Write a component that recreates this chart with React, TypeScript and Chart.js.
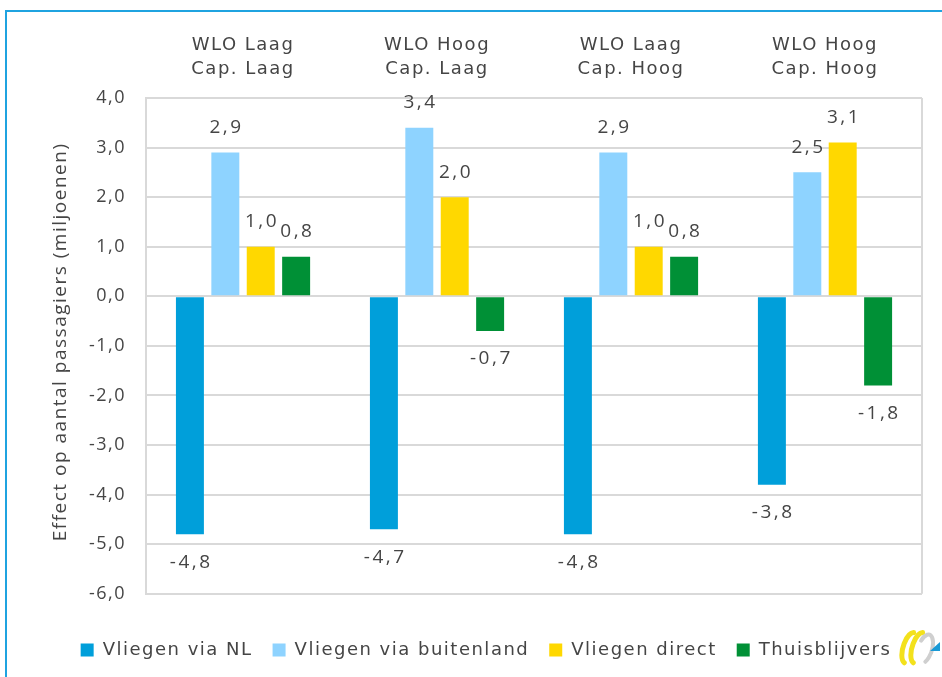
import React, { useEffect, useRef } from 'react';
import { Chart, registerables } from 'chart.js';

Chart.register(...registerables);

const categories: string[][] = [
  ['WLO Laag', 'Cap. Laag'],
  ['WLO Hoog', 'Cap. Laag'],
  ['WLO Laag', 'Cap. Hoog'],
  ['WLO Hoog', 'Cap. Hoog'],
];
const seriesNames = ['Vliegen via NL', 'Vliegen via buitenland', 'Vliegen direct', 'Thuisblijvers'];
const vliegenViaNL = [-4.8, -4.7, -4.8, -3.8];
const vliegenViaBuitenland = [2.9, 3.4, 2.9, 2.5];
const vliegenDirect = [1.0, 2.0, 1.0, 3.1];
const thuisblijvers = [0.8, -0.7, 0.8, -1.8];
const seriesColors = ['#009fda', '#8ed3ff', '#ffd800', '#009036'];
const yMin = -6;
const yMax = 4;
const yStep = 1;
const yTitle = 'Effect op aantal passagiers (miljoenen)';

const TEXT = '#454545';
const GRID = '#d9d9d9';
const LABEL_FONT = "'DejaVu Sans', Verdana, sans-serif";
const NUM_FONT = "'Open Sans', 'DejaVu Sans', sans-serif";
const SPACING = '1.5px';

const fmt = (v: number) => v.toFixed(1).replace('.', ',');

const extrasPlugin = {
  id: 'extras',
  beforeUpdate(chart: any) {
    chart.ctx.letterSpacing = SPACING;
  },
  beforeLayout(chart: any) {
    chart.ctx.letterSpacing = SPACING;
  },
  beforeDraw(chart: any) {
    chart.ctx.letterSpacing = SPACING;
  },
  beforeDatasetsDraw(chart: any) {
    const { ctx, chartArea } = chart;
    ctx.save();
    ctx.strokeStyle = GRID;
    ctx.lineWidth = 2;
    ctx.beginPath();
    ctx.moveTo(chartArea.right, chartArea.top);
    ctx.lineTo(chartArea.right, chartArea.bottom);
    ctx.stroke();
    // y axis title, rotated
    ctx.letterSpacing = '1.5px';
    ctx.font = `19px ${NUM_FONT}`;
    ctx.fillStyle = TEXT;
    ctx.textAlign = 'left';
    ctx.textBaseline = 'middle';
    const w = ctx.measureText(yTitle).width;
    const cy = (chartArea.top + chartArea.bottom) / 2 - 4;
    ctx.translate(61, cy + w / 2);
    ctx.rotate(-Math.PI / 2);
    ctx.fillText(yTitle, 0, 0);
    ctx.restore();
  },
  afterDatasetsDraw(chart: any) {
    const { ctx } = chart;
    ctx.save();
    ctx.letterSpacing = '2.5px';
    ctx.font = `19px ${NUM_FONT}`;
    ctx.fillStyle = TEXT;
    ctx.textAlign = 'center';
    ctx.textBaseline = 'middle';
    chart.data.datasets.forEach((ds: any, di: number) => {
      const meta = chart.getDatasetMeta(di);
      meta.data.forEach((el: any, i: number) => {
        const v = ds.data[i];
        const y = v >= 0 ? el.y - 25 : el.y + 28;
        ctx.fillText(fmt(v), el.x + 1.25, y);
      });
    });
    ctx.restore();
  },
  afterDraw(chart: any) {
    const { ctx } = chart;
    // small logo mark at the bottom right
    const x = chart.width - 44;
    const y = chart.height - 29;
    ctx.save();
    ctx.lineCap = 'round';
    ctx.lineWidth = 5;
    ctx.strokeStyle = '#f3e11c';
    ctx.beginPath();
    ctx.ellipse(x + 12, y, 7, 16, 0.3, Math.PI * 0.55, Math.PI * 1.45);
    ctx.stroke();
    ctx.beginPath();
    ctx.ellipse(x + 21, y, 7, 16, 0.3, Math.PI * 0.55, Math.PI * 1.45);
    ctx.stroke();
    ctx.strokeStyle = '#cfcfcf';
    ctx.lineWidth = 4;
    ctx.beginPath();
    ctx.ellipse(x + 27, y + 1, 7, 15, 0.3, Math.PI * 1.15, Math.PI * 2.3);
    ctx.stroke();
    ctx.fillStyle = '#1a9ad6';
    ctx.beginPath();
    ctx.moveTo(x + 42, y - 6);
    ctx.lineTo(x + 42, y + 3);
    ctx.lineTo(x + 32, y + 3);
    ctx.closePath();
    ctx.fill();
    ctx.restore();
  },
};

export default function App() {
  const canvasRef = useRef<HTMLCanvasElement | null>(null);

  useEffect(() => {
    if (!canvasRef.current) return;
    const seriesData = [vliegenViaNL, vliegenViaBuitenland, vliegenDirect, thuisblijvers];
    const chart = new Chart(canvasRef.current, {
      type: 'bar',
      data: {
        labels: categories,
        datasets: seriesNames.map((name, i) => ({
          label: name,
          data: seriesData[i],
          backgroundColor: seriesColors[i],
          borderWidth: 0,
          barPercentage: 0.79,
          categoryPercentage: 0.73,
        })),
      },
      options: {
        responsive: false,
        animation: false,
        layout: { padding: { left: 50, right: 20, top: 16, bottom: 8 } },
        plugins: {
          tooltip: { enabled: false },
          legend: {
            position: 'bottom',
            title: { display: true, text: ' ', font: { size: 16 }, padding: { top: 4, bottom: 4 } },
            labels: {
              boxWidth: 13,
              boxHeight: 13,
              padding: 20,
              color: TEXT,
              font: { family: LABEL_FONT, size: 18 },
            },
          },
        },
        scales: {
          x: {
            position: 'top',
            grid: { display: false, drawTicks: false },
            border: { display: false },
            ticks: {
              color: TEXT,
              font: { family: LABEL_FONT, size: 18, lineHeight: 1.333 },
              padding: 17,
              maxRotation: 0,
            },
          },
          y: {
            min: yMin,
            max: yMax,
            grid: { color: GRID, lineWidth: 2, drawTicks: false },
            border: { display: true, color: GRID, width: 2 },
            afterFit: (scale: any) => {
              scale.width += 19;
            },
            ticks: {
              stepSize: yStep,
              color: TEXT,
              font: { family: NUM_FONT, size: 18 },
              padding: 20,
              callback: (v: any) => fmt(Number(v)),
            },
          },
        },
      },
      plugins: [extrasPlugin],
    });
    return () => chart.destroy();
  }, []);

  return (
    <div style={{ position: 'fixed', left: 0, top: 0, width: 942, height: 677, background: '#fff', overflow: 'hidden' }}>
      <div
        style={{
          position: 'absolute',
          left: 5,
          top: 10,
          width: 960,
          height: 700,
          borderLeft: '2px solid #1fa3e0',
          borderTop: '2px solid #1fa3e0',
        }}
      />
      <canvas ref={canvasRef} width={942} height={677} style={{ position: 'absolute', left: 0, top: 0 }} />
    </div>
  );
}
